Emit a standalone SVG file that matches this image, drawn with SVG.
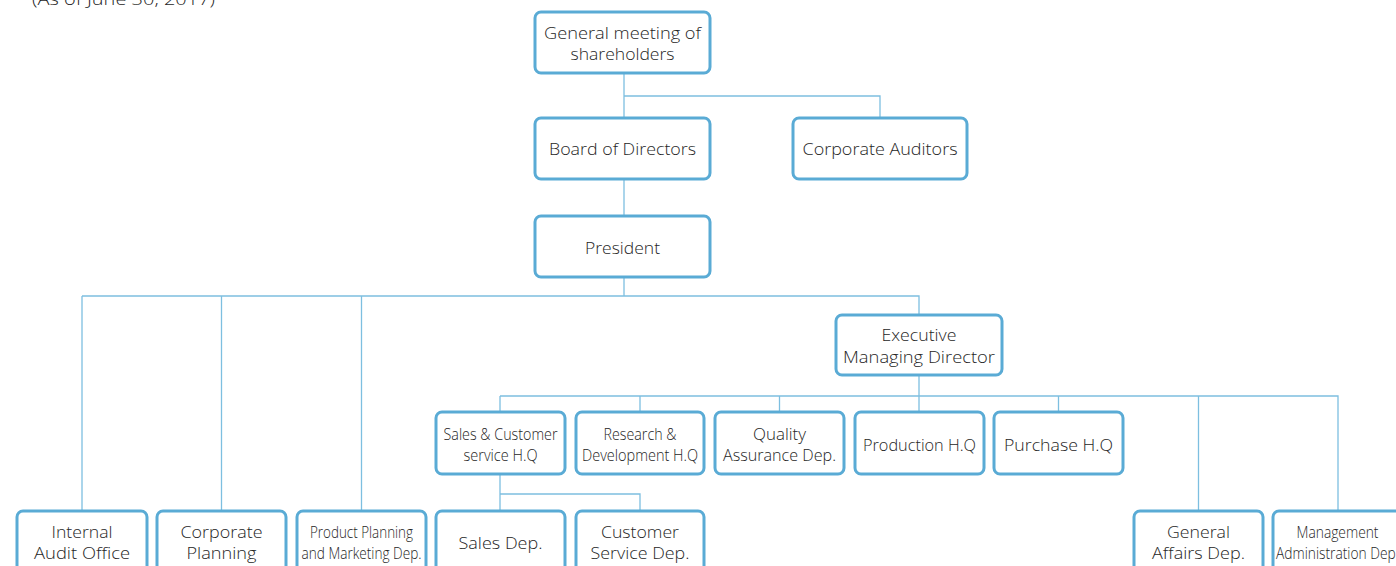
<svg xmlns="http://www.w3.org/2000/svg" width="1396" height="566" viewBox="0 0 1396 566">
  <style>
    .box { fill: #ffffff; stroke: #5aabd5; stroke-width: 3; }
    .link { fill: none; stroke: #7dbfe0; stroke-width: 1.3; }
    text { font-family: "Open Sans", "Liberation Sans", sans-serif; font-size: 17px; font-weight: 300; fill: #262626; text-anchor: middle; }
    .cond { font-size: 16.5px; }
  </style>

  <text x="123.5" y="4.5" textLength="183" lengthAdjust="spacingAndGlyphs">(As of June 30, 2017)</text>

  <g id="connectors">
    <path class="link" d="M624,73 V118 M624,96 H880 V118"/>
    <path class="link" d="M624,179 V216"/>
    <path class="link" d="M624,277 V296 M82,296 H919 V315 M82,296 V511 M221.5,296 V511 M361.5,296 V511"/>
    <path class="link" d="M919,375 V412 M500,396 H1338 V511 M500,396 V412 M640,396 V412 M779.5,396 V412 M1058.5,396 V412 M1198.5,396 V511"/>
    <path class="link" d="M500,474 V511 M500,494 H640 V511"/>
  </g>

  <g id="general-meeting">
    <rect class="box" x="535" y="12" width="175" height="61" rx="6"/>
    <text x="622.5" y="39" textLength="157" lengthAdjust="spacingAndGlyphs">General meeting of</text>
    <text x="622.5" y="60" textLength="104" lengthAdjust="spacingAndGlyphs">shareholders</text>
  </g>
  <g id="board">
    <rect class="box" x="535" y="118" width="175" height="61" rx="6"/>
    <text x="622.5" y="155" textLength="147" lengthAdjust="spacingAndGlyphs">Board of Directors</text>
  </g>
  <g id="auditors">
    <rect class="box" x="793" y="118" width="174" height="61" rx="6"/>
    <text x="880" y="155" textLength="155" lengthAdjust="spacingAndGlyphs">Corporate Auditors</text>
  </g>
  <g id="president">
    <rect class="box" x="535" y="216" width="175" height="61" rx="6"/>
    <text x="622.5" y="253.5" textLength="75" lengthAdjust="spacingAndGlyphs">President</text>
  </g>
  <g id="executive">
    <rect class="box" x="836" y="315" width="166" height="60" rx="6"/>
    <text x="919" y="341" textLength="75" lengthAdjust="spacingAndGlyphs">Executive</text>
    <text x="919" y="362.5" textLength="152" lengthAdjust="spacingAndGlyphs">Managing Director</text>
  </g>

  <g id="sales-hq">
    <rect class="box" x="436" y="412" width="129" height="62" rx="6"/>
    <text class="cond" x="500.5" y="440" textLength="114" lengthAdjust="spacingAndGlyphs">Sales &amp; Customer</text>
    <text class="cond" x="500.5" y="461" textLength="74" lengthAdjust="spacingAndGlyphs">service H.Q</text>
  </g>
  <g id="rd-hq">
    <rect class="box" x="576" y="412" width="128" height="62" rx="6"/>
    <text class="cond" x="640" y="440" textLength="73" lengthAdjust="spacingAndGlyphs">Research &amp;</text>
    <text class="cond" x="640" y="461" textLength="116" lengthAdjust="spacingAndGlyphs">Development H.Q</text>
  </g>
  <g id="quality">
    <rect class="box" x="715" y="412" width="129" height="62" rx="6"/>
    <text x="779.5" y="440" textLength="53" lengthAdjust="spacingAndGlyphs">Quality</text>
    <text x="779.5" y="461" textLength="113" lengthAdjust="spacingAndGlyphs">Assurance Dep.</text>
  </g>
  <g id="production">
    <rect class="box" x="855" y="412" width="129" height="62" rx="6"/>
    <text x="919.5" y="450.5" textLength="113" lengthAdjust="spacingAndGlyphs">Production H.Q</text>
  </g>
  <g id="purchase">
    <rect class="box" x="994" y="412" width="129" height="62" rx="6"/>
    <text x="1058.5" y="450.5" textLength="109" lengthAdjust="spacingAndGlyphs">Purchase H.Q</text>
  </g>

  <g id="internal-audit">
    <rect class="box" x="17" y="511" width="130" height="62" rx="6"/>
    <text x="82" y="538" textLength="61" lengthAdjust="spacingAndGlyphs">Internal</text>
    <text x="82" y="559" textLength="96" lengthAdjust="spacingAndGlyphs">Audit Office</text>
  </g>
  <g id="corporate-planning">
    <rect class="box" x="157" y="511" width="129" height="62" rx="6"/>
    <text x="221.5" y="538" textLength="82" lengthAdjust="spacingAndGlyphs">Corporate</text>
    <text x="221.5" y="559" textLength="70" lengthAdjust="spacingAndGlyphs">Planning</text>
  </g>
  <g id="product-planning">
    <rect class="box" x="297" y="511" width="129" height="62" rx="6"/>
    <text class="cond" x="361.5" y="538" textLength="103" lengthAdjust="spacingAndGlyphs">Product Planning</text>
    <text class="cond" x="361.5" y="559" textLength="120" lengthAdjust="spacingAndGlyphs">and Marketing Dep.</text>
  </g>
  <g id="sales-dep">
    <rect class="box" x="436" y="511" width="129" height="62" rx="6"/>
    <text x="500.5" y="549" textLength="84" lengthAdjust="spacingAndGlyphs">Sales Dep.</text>
  </g>
  <g id="customer-service">
    <rect class="box" x="576" y="511" width="128" height="62" rx="6"/>
    <text x="640" y="538" textLength="78" lengthAdjust="spacingAndGlyphs">Customer</text>
    <text x="640" y="559" textLength="99" lengthAdjust="spacingAndGlyphs">Service Dep.</text>
  </g>
  <g id="general-affairs">
    <rect class="box" x="1134" y="511" width="129" height="62" rx="6"/>
    <text x="1198.5" y="538" textLength="63" lengthAdjust="spacingAndGlyphs">General</text>
    <text x="1198.5" y="559" textLength="93" lengthAdjust="spacingAndGlyphs">Affairs Dep.</text>
  </g>
  <g id="management-admin">
    <rect class="box" x="1273" y="511" width="129" height="62" rx="6"/>
    <text class="cond" x="1337.5" y="538" textLength="82" lengthAdjust="spacingAndGlyphs">Management</text>
    <text class="cond" x="1337.5" y="559" textLength="123" lengthAdjust="spacingAndGlyphs">Administration Dep.</text>
  </g>
</svg>
